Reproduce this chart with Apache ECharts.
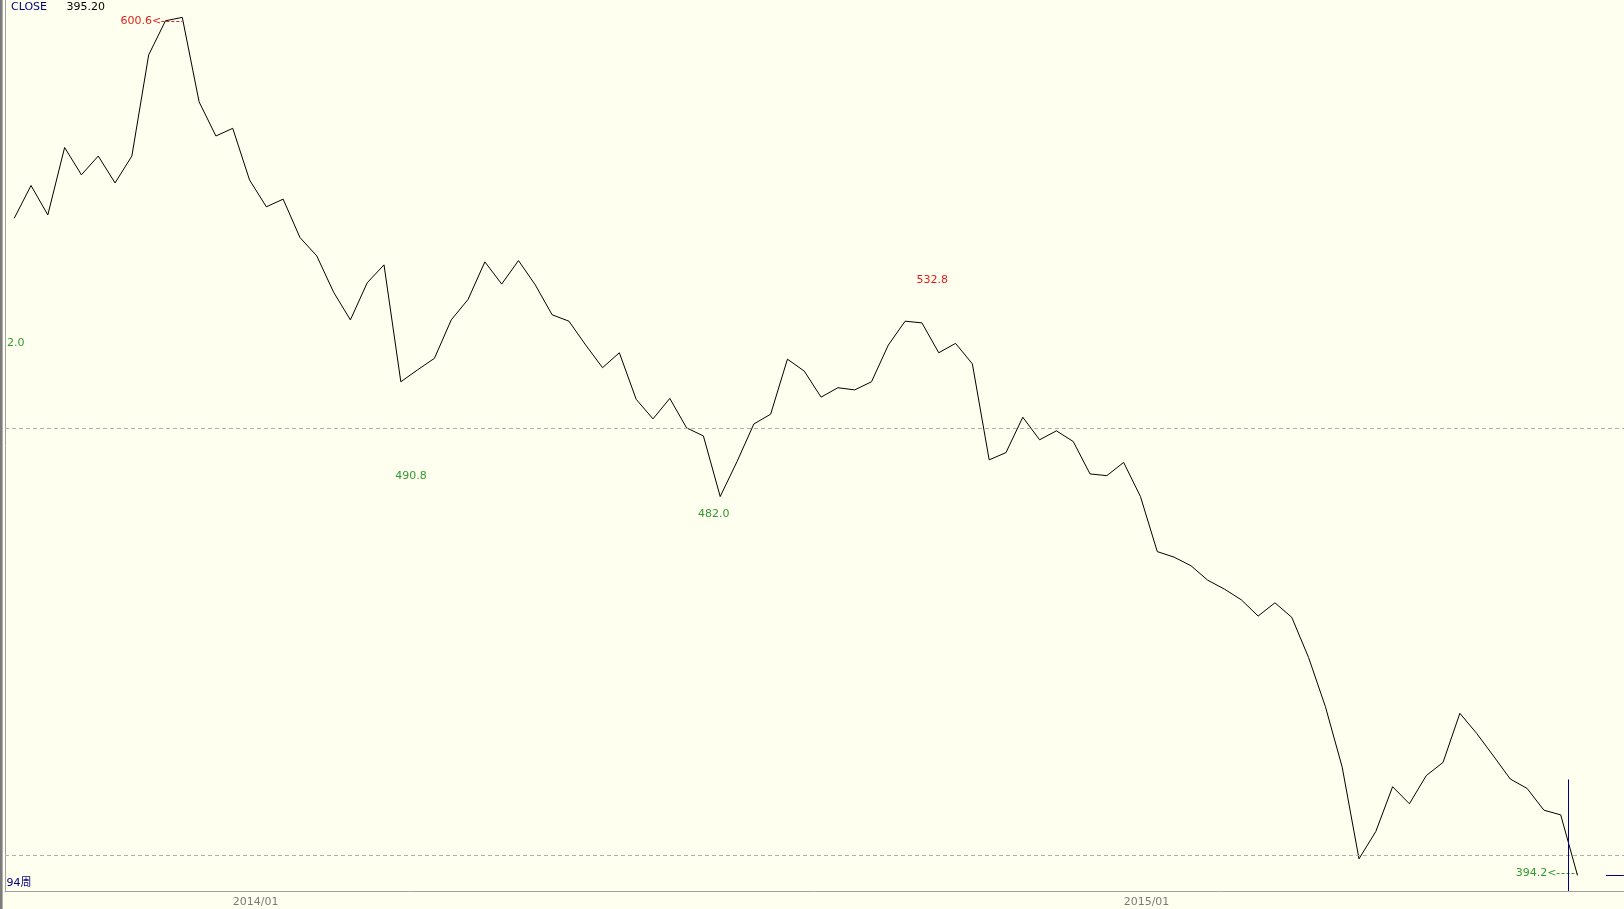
<!DOCTYPE html>
<html><head><meta charset="utf-8">
<script src="https://cdn.jsdelivr.net/npm/echarts@6/dist/echarts.min.js"></script>
<style>html,body{margin:0;padding:0;background:#FFFFF0;}#c{width:1624px;height:909px;}</style>
</head><body><div id="c"></div>
<script>
// Weekly closing prices, 94 weeks
const closes = [
  549.2, 556.9, 550.0, 565.8, 559.4, 563.8, 557.5, 563.8, 587.5, 595.5,
  596.3, 576.5, 568.5, 570.3, 558.2, 551.9, 553.7, 544.7, 540.4, 531.9,
  525.4, 534.1, 538.3, 510.9, 513.7, 516.4, 525.4, 530.2, 539.0, 533.8,
  539.3, 533.6, 526.6, 525.1, 519.5, 514.2, 517.7, 506.8, 502.2, 507.0,
  500.1, 498.2, 484.0, 492.2, 501.0, 503.3, 516.2, 513.4, 507.3, 509.5,
  509.0, 510.9, 519.5, 525.1, 524.7, 517.7, 519.9, 515.1, 492.6, 494.3,
  502.6, 497.3, 499.4, 496.9, 489.3, 488.9, 492.0, 484.0, 471.1, 469.8,
  467.8, 464.4, 462.3, 459.8, 456.0, 459.1, 455.7, 446.3, 434.8, 420.6,
  399.1, 405.5, 416.0, 412.0, 418.6, 421.7, 433.2, 428.5, 423.2, 417.8,
  415.6, 410.5, 409.4, 395.2
];
const tickLabels = ['2014/01', '2015/01'];
const tickWeeks = [13, 66];
const refLevels = [500, 400];
const extremeWeeks = [10, 54, 23, 41, 93];
const extremeValues = [600.6, 532.8, 490.8, 482.0, 394.2];
const extremeKinds = ['high', 'high', 'low', 'low', 'low'];
const cursorWeek = 92.45;
const cursorTop = 417.7;
const sideText = '2.0';
const seriesName = 'CLOSE';

const FONT = '"DejaVu Sans", "Noto Sans CJK SC", sans-serif';
const RED = '#e0201c', GREEN = '#2f9a2f', NAVY = '#000080';
const Y_MIN = 391.56, Y_MAX = 600.37, X_MIN = -0.547, X_MAX = 95.765;

const chart = echarts.init(document.getElementById('c'), null, {renderer: 'canvas'});
const lastClose = closes[closes.length - 1];

chart.setOption({
  animation: false,
  backgroundColor: '#FFFFF0',
  grid: {left: 5, right: 0, top: 0, bottom: 18},
  xAxis: {
    type: 'value', min: X_MIN, max: X_MAX,
    axisLine: {show: true, onZero: false, lineStyle: {color: '#a0a0a0', width: 1}},
    axisTick: {show: false}, splitLine: {show: false},
    axisLabel: {
      customValues: tickWeeks,
      formatter: v => { const k = tickWeeks.indexOf(v); return k >= 0 ? tickLabels[k] : ''; },
      align: 'left', color: '#7a7a7a', fontSize: 11, fontFamily: FONT, margin: 6
    }
  },
  yAxis: {
    type: 'value', min: Y_MIN, max: Y_MAX,
    axisLine: {show: true, onZero: false, lineStyle: {color: '#a0a0a0', width: 1}},
    axisTick: {show: false}, splitLine: {show: false}, axisLabel: {show: false}
  },
  series: [{
    type: 'line', name: seriesName,
    data: closes.map((v, i) => [i, v]),
    showSymbol: false, symbol: 'none', clip: true,
    lineStyle: {color: '#000000', width: 1},
    markLine: {
      silent: true, animation: false, symbol: ['none', 'none'], label: {show: false},
      data: [
        ...refLevels.map(v => ({yAxis: v, lineStyle: {color: '#b0b0b0', type: [4, 3], width: 1}})),
        [{coord: [cursorWeek, cursorTop], lineStyle: {color: NAVY, type: 'solid', width: 1}}, {coord: [cursorWeek, Y_MIN + 0.01]}],
        [{coord: [94.7, lastClose], lineStyle: {color: NAVY, type: 'solid', width: 1}}, {coord: [X_MAX - 0.01, lastClose]}]
      ]
    }
  }]
});

function txt(s, x, y, color, align) {
  return {
    type: 'text', x: x, y: y, silent: true,
    style: {
      text: s, fill: color, font: '11px ' + FONT,
      align: align || 'left', verticalAlign: 'middle',
      textAlign: align || 'left', textVerticalAlign: 'middle'
    }
  };
}

const g = [];
g.push({type: 'rect', silent: true, shape: {x: 0, y: 0, width: 2.6, height: 909}, style: {fill: '#7c7c7c'}});
g.push(txt(seriesName, 11, 7.5, NAVY));
g.push(txt(lastClose.toFixed(2), 66.5, 7.5, '#000000'));
g.push(txt(sideText, 7, 343.5, GREEN));
g.push(txt(closes.length + '周', 6.5, 883, NAVY));

const vMax = Math.max(...extremeValues), vMin = Math.min(...extremeValues);
extremeWeeks.forEach((w, k) => {
  const val = extremeValues[k];
  const isHigh = extremeKinds[k] === 'high';
  const color = isHigh ? RED : GREEN;
  const p = chart.convertToPixel({gridIndex: 0}, [w, closes[w]]);
  const pv = chart.convertToPixel({gridIndex: 0}, [w, Math.max(Math.min(val, Y_MAX), Y_MIN)]);
  const vy = (val > Y_MAX) ? -1 : pv[1];
  let cy = isHigh ? vy - 8.5 : vy + 9;
  cy = Math.min(Math.max(cy, 21), 873);
  const label = val.toFixed(1);
  if (val === vMax || val === vMin) {
    const endX = p[0];
    g.push(txt(label + '<', endX - 21, cy, color, 'right'));
    g.push({type: 'line', silent: true, shape: {x1: endX - 21, y1: Math.round(cy) + 0.5, x2: endX, y2: Math.round(cy) + 0.5},
      style: {stroke: color, lineWidth: 1, lineDash: [3, 2]}});
  } else {
    g.push(txt(label, p[0] - 5.5, cy, color, 'left'));
  }
});
chart.setOption({graphic: {elements: g}});
</script>
</body></html>
